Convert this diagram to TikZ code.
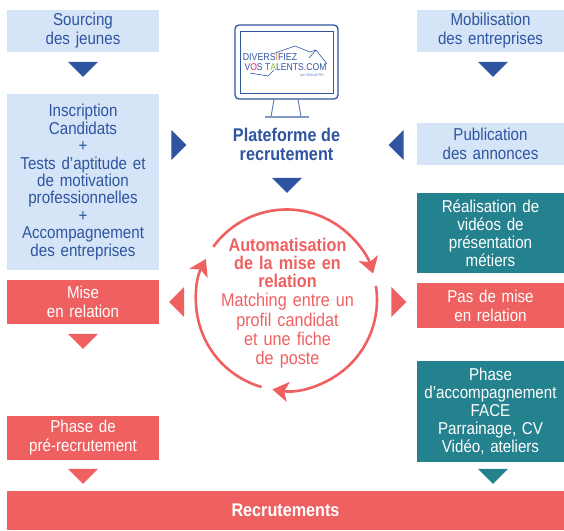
\documentclass[tikz,border=0pt]{standalone}
\usepackage{fontspec}
\setmainfont[FakeStretch=0.88]{Liberation Sans}
\usetikzlibrary{arrows.meta,shapes.geometric}
\definecolor{paleblue}{RGB}{213, 229, 247}
\definecolor{navy}{RGB}{47, 84, 160}
\definecolor{coral}{RGB}{239, 96, 96}
\definecolor{teal}{RGB}{36, 130, 143}
\definecolor{logopink}{RGB}{214, 30, 120}
\definecolor{logogreen}{RGB}{140, 190, 60}
\definecolor{logoorange}{RGB}{240, 130, 50}
\newcommand{\bodyfont}[2][17.2]{\fontsize{#1}{#2}\selectfont}
\tikzset{
    flowbox/.style={minimum height=#1, inner sep=0pt, align=center, anchor=center},
    pale/.style={flowbox=#1, fill=paleblue, text=navy},
    red/.style={flowbox=#1, fill=coral, text=white},
    deep/.style={flowbox=#1, fill=teal, text=white},
    leftcol/.style={text width=152pt, minimum width=152pt},
    rightcol/.style={text width=147pt, minimum width=147pt},
    tri/.style={isosceles triangle, isosceles triangle apex angle=90, inner sep=0pt, minimum height=15pt, fill=#1},
    tridown/.style={tri=#1, shape border rotate=270},
    trileft/.style={tri=#1, shape border rotate=180},
    triright/.style={tri=#1, shape border rotate=0},
    ringarrow/.style={draw=coral, line width=2.6pt, -{Stealth[length=16pt,width=20pt,inset=4pt]}}
}
\begin{document}
\begin{tikzpicture}[x=1pt,y=1pt]
    \useasboundingbox (0,0) rectangle (564,-530);
    % left column
    \node[pale=42pt, leftcol, font=\bodyfont{19pt}] (sourcing) at (83,-31) {Sourcing\\des jeunes};
    \node[tridown=navy] (trisourcing) at (83,-68) {};
    \node[pale=176pt, leftcol, font=\bodyfont{17.4pt}] (inscription) at (83,-182) {Inscription\\Candidats\\+\\Tests d’aptitude et\\de motivation\\professionnelles\\+\\Accompagnement\\des entreprises};
    \node[red=44pt, leftcol, font=\bodyfont{19pt}] (mise) at (83,-302) {Mise\\en relation};
    \node[tridown=coral] (trimise) at (83,-340) {};
    \node[red=44pt, leftcol, font=\bodyfont{19pt}] (prerecrutement) at (83,-438) {Phase de\\pré-recrutement};
    \node[tridown=coral] (triphase) at (83,-475) {};
    % right column
    \node[pale=42pt, rightcol, font=\bodyfont{19pt}] (mobilisation) at (490.5,-31) {Mobilisation\\des entreprises};
    \node[tridown=navy] (trimobil) at (493,-68) {};
    \node[pale=42pt, rightcol, font=\bodyfont{19pt}] (publication) at (490.5,-144) {Publication\\des annonces};
    \node[deep=80pt, rightcol, font=\bodyfont{18pt}] (videos) at (490.5,-233) {Réalisation de\\vidéos de\\présentation\\métiers};
    \node[red=45pt, rightcol, font=\bodyfont{19pt}] (pasmise) at (490.5,-305.5) {Pas de mise\\en relation};
    \node[deep=101pt, rightcol, font=\bodyfont{18pt}] (accomp) at (490.5,-411.5) {Phase\\d’accompagnement\\FACE\\Parrainage, CV\\Vidéo, ateliers};
    \node[tridown=teal] (triaccomp) at (493,-475) {};
    \node[red=39pt, minimum width=557pt, font={\bodyfont[18.4]{19pt}\bfseries}] (recrutements) at (285.5,-510.5) {\raisebox{-2.5pt}{Recrutements}};
    % side arrows
    \node[triright=navy] (triinscr) at (177.5,-145) {};
    \node[trileft=navy] (tripubli) at (397.5,-145) {};
    \node[trileft=coral] (triredl) at (178,-302) {};
    \node[triright=coral] (triredr) at (397.5,-302) {};
    % monitor
    \draw[navy, line width=1.3pt, rounded corners=4pt] (235,-25) rectangle (338,-99);
    \draw[navy, line width=1pt] (240.5,-31) rectangle (333,-93);
    \draw[navy!80, line width=0.9pt] (274,-99) -- (271,-117) (298,-99) -- (301,-117);
    \draw[navy!60, line width=1.6pt] (265,-117) -- (309,-117);
    % logo
    \draw[navy, line width=0.6pt] (295,-46) -- (310,-52) -- (316,-50) (295,-46) -- (275,-53) (316,-50) -- (309,-58) (316,-50) -- (327,-64) (250,-73) -- (268,-76) -- (274,-70);
    \node[inner sep=0pt, font=\fontsize{10}{10}\selectfont, text=navy] (logotop) at (270,-57) {DIVERS\textcolor{logoorange}{I}FIEZ};
    \node[inner sep=0pt, font=\fontsize{9.8}{10}\selectfont, text=navy] (logobot) at (285.5,-67) {V\textcolor{logopink}{O}S T\textcolor{logogreen}{A}LENTS\textcolor{logopink}{.}COM};
    \node[inner sep=0pt, font=\fontsize{4}{4}\selectfont, text=navy!70] (logopar) at (312,-75) {par Mozaïk RH};
    \node[inner sep=0pt, align=center, text=navy, font={\bodyfont[18.4]{19pt}\bfseries}] (plateforme) at (286.5,-144.5) {Plateforme de\\recrutement};
    \node[tridown=navy] (triplat) at (287,-184) {};
    % ring
    \coordinate (ring) at (286.5,-300);
    \draw[ringarrow] ([shift={(144:90.5)}]ring) arc[start angle=144, end angle=17, radius=90.5];
    \draw[ringarrow] ([shift={(9:90.5)}]ring) arc[start angle=9, end angle=-99, radius=90.5];
    \draw[ringarrow] ([shift={(-106:90.5)}]ring) arc[start angle=-106, end angle=-207, radius=90.5];
    \node[inner sep=0pt, text width=170pt, align=center, text=coral, font={\bodyfont[18.4]{18pt}}] (matching) at (287.5,-303.5) {\textbf{Automatisation\\de la mise en\\relation}\\[1pt]Matching entre un\\[1.2pt]profil candidat\\[1.2pt]et une fiche\\[1.2pt]de poste};
\end{tikzpicture}
\end{document}
